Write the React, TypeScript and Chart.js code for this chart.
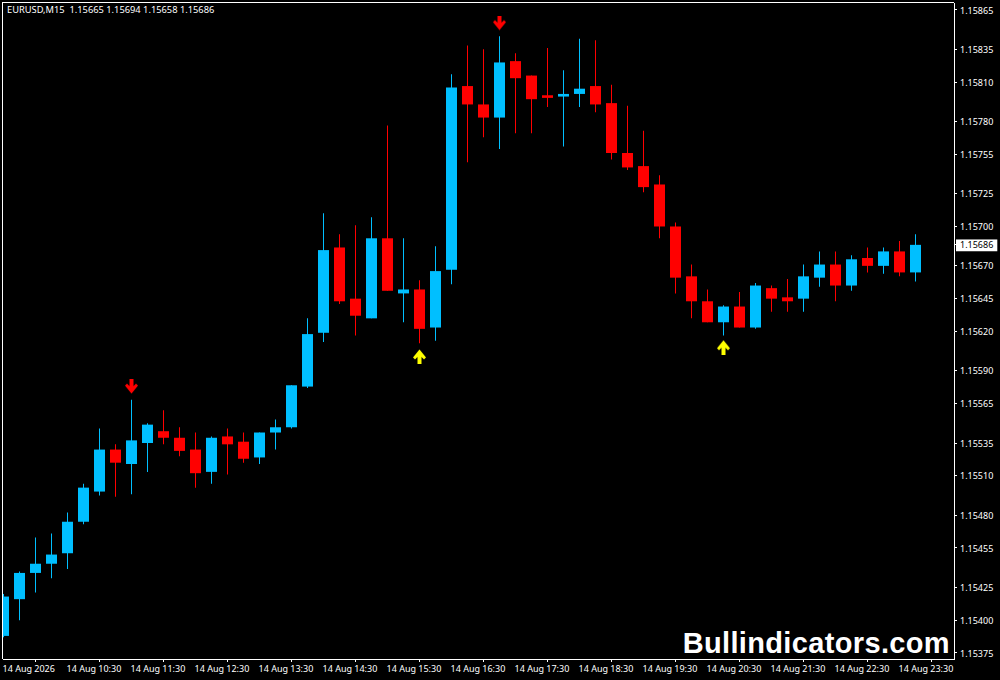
import React, { useEffect, useRef } from "react";
import { Chart, registerables } from "chart.js";

Chart.register(...registerables);

const opens = [1.15388,1.15416,1.15436,1.15443,1.15451,1.15475,1.15498,1.1553,1.15519,1.15535,1.15544,1.15539,1.1553,1.15513,1.1554,1.15536,1.15524,1.15543,1.15547,1.15578,1.15619,1.15684,1.15645,1.1563,1.15691,1.15649,1.15652,1.15623,1.15667,1.15807,1.15793,1.15783,1.15826,1.15815,1.158,1.15799,1.15801,1.15807,1.15794,1.15756,1.15746,1.15732,1.157,1.15662,1.15643,1.15627,1.15639,1.15623,1.15653,1.15646,1.15645,1.15661,1.15671,1.15655,1.15676,1.1567,1.15681,1.15665];
const closes = [1.15418,1.15436,1.15443,1.1545,1.15475,1.15501,1.1553,1.1552,1.15537,1.15549,1.15539,1.15529,1.15512,1.15539,1.15534,1.15523,1.15543,1.15547,1.15579,1.15618,1.15682,1.15643,1.15632,1.15691,1.15651,1.15652,1.15622,1.15666,1.15806,1.15793,1.15783,1.15825,1.15813,1.15797,1.15798,1.15801,1.15805,1.15793,1.15756,1.15745,1.1573,1.157,1.15661,1.15643,1.15627,1.15639,1.15623,1.15655,1.15645,1.15643,1.15662,1.15671,1.15655,1.15675,1.1567,1.15681,1.15665,1.15686];
const highs = [1.1542,1.15437,1.15463,1.15466,1.15482,1.15504,1.15546,1.15534,1.15568,1.1555,1.1556,1.15547,1.15543,1.1554,1.15546,1.15543,1.15543,1.15553,1.15579,1.1563,1.1571,1.15694,1.15701,1.15707,1.15777,1.15691,1.15659,1.15685,1.15816,1.15838,1.15835,1.15845,1.15832,1.15815,1.15836,1.15819,1.15843,1.15842,1.15808,1.15792,1.15773,1.15739,1.15703,1.15671,1.15652,1.1564,1.1565,1.15657,1.15655,1.1566,1.15671,1.15681,1.15681,1.15678,1.15684,1.15684,1.15689,1.15694];
const lows = [1.15387,1.154,1.15421,1.15432,1.15439,1.15473,1.15495,1.15494,1.15496,1.15513,1.15534,1.15525,1.15501,1.15504,1.15511,1.1552,1.15519,1.1553,1.15546,1.15577,1.15612,1.15641,1.15617,1.1563,1.15651,1.15627,1.15611,1.15613,1.15656,1.15749,1.15768,1.15759,1.15771,1.15771,1.15791,1.15761,1.15791,1.15787,1.15751,1.15743,1.15726,1.15691,1.15649,1.1563,1.15627,1.15617,1.15623,1.15622,1.15635,1.15635,1.15635,1.15654,1.15643,1.15651,1.15665,1.15664,1.15662,1.15658];

const downArrowIndex = [8, 31];
const downArrowPrice = [1.15578, 1.15855];
const upArrowIndex = [26, 45];
const upArrowPrice = [1.15601, 1.15608];

const priceTicks = [1.15865,1.15835,1.1581,1.1578,1.15755,1.15725,1.157,1.15686,1.1567,1.15645,1.1562,1.1559,1.15565,1.15535,1.1551,1.1548,1.15455,1.15425,1.154,1.15375];
const currentPrice = 1.15686;
const timeTickIndex = [0,4,8,12,16,20,24,28,32,36,40,44,48,52,56];
const timeLabels = ["14 Aug 2026","14 Aug 10:30","14 Aug 11:30","14 Aug 12:30","14 Aug 13:30","14 Aug 14:30","14 Aug 15:30","14 Aug 16:30","14 Aug 17:30","14 Aug 18:30","14 Aug 19:30","14 Aug 20:30","14 Aug 21:30","14 Aug 22:30","14 Aug 23:30"];
const headerText = "EURUSD,M15  1.15665 1.15694 1.15658 1.15686";
const watermarkText = "Bullindicators.com";

const UP = "#00bfff";
const DOWN = "#ff0000";
const AXIS_FONT = { family: "'Noto Sans'", size: 9 };

function arrowImage(color: string, up: boolean): HTMLCanvasElement {
  const c = document.createElement("canvas");
  c.width = 13;
  c.height = 15;
  const g = c.getContext("2d")!;
  const pts = [[4.5,0],[8.5,0],[8.5,7],[11,4.5],[13,6.5],[6.5,14.5],[0,6.5],[2,4.5],[4.5,7]];
  if (up) {
    g.translate(0, 15);
    g.scale(1, -1);
  }
  g.beginPath();
  pts.forEach(([x, y], i) => (i ? g.lineTo(x, y) : g.moveTo(x, y)));
  g.closePath();
  g.fillStyle = color;
  g.fill();
  return c;
}

function clearPadding(s: any) {
  s.paddingTop = 0;
  s.paddingBottom = 0;
  s.paddingLeft = 0;
  s.paddingRight = 0;
}

const framePlugin = {
  id: "frame",
  beforeDraw(chart: any) {
    const { ctx, width, height } = chart;
    ctx.save();
    ctx.fillStyle = "#000";
    ctx.fillRect(0, 0, width, height);
    ctx.restore();
  },
  afterDraw(chart: any) {
    const { ctx, chartArea } = chart;
    ctx.save();
    ctx.fillStyle = "#fff";
    ctx.fillRect(chartArea.left - 1, chartArea.top - 1, chartArea.right - chartArea.left + 1, 1);
    ctx.fillRect(chartArea.left - 1, chartArea.top - 1, 1, chartArea.bottom - chartArea.top + 1);
    ctx.textBaseline = "middle";
    ctx.textAlign = "left";
    ctx.font = "9.3px 'Noto Sans'";
    ctx.fillText(headerText, 7, 10);
    ctx.font = "bold 29px 'Liberation Sans'";
    ctx.letterSpacing = "0.35px";
    ctx.textAlign = "right";
    ctx.textBaseline = "alphabetic";
    ctx.fillText(watermarkText, 950, 653);
    ctx.restore();
  },
};

export default function App() {
  const ref = useRef<HTMLCanvasElement | null>(null);

  useEffect(() => {
    document.body.style.margin = "0";
    document.body.style.background = "#000";
    const canvas = ref.current!;
    canvas.getContext("2d", { alpha: false });
    const colors = closes.map((c, i) => (c >= opens[i] ? UP : DOWN));
    const chart = new Chart(canvas, {
      type: "bar",
      data: {
        datasets: [
          {
            type: "scatter",
            label: "Sell",
            data: downArrowIndex.map((x, i) => ({ x, y: downArrowPrice[i] })),
            pointStyle: arrowImage("#ff0000", false),
            order: 0,
          },
          {
            type: "scatter",
            label: "Buy",
            data: upArrowIndex.map((x, i) => ({ x, y: upArrowPrice[i] })),
            pointStyle: arrowImage("#ffff00", true),
            order: 0,
          },
          {
            label: "Body",
            data: opens.map((o, i) => ({ x: i, y: [o, closes[i]] })),
            backgroundColor: colors,
            borderWidth: 0,
            inflateAmount: 0,
            barThickness: 11,
            grouped: false,
            order: 1,
          },
          {
            label: "Wick",
            data: lows.map((l, i) => ({ x: i, y: [l, highs[i]] })),
            backgroundColor: colors,
            borderWidth: 0,
            inflateAmount: 0,
            barThickness: 1,
            grouped: false,
            order: 2,
          },
        ] as any,
      },
      options: {
        animation: false,
        responsive: false,
        devicePixelRatio: 1,
        layout: { autoPadding: false, padding: { top: 3, left: 3, right: 0, bottom: 0 } },
        plugins: { legend: { display: false }, title: { display: false }, tooltip: { enabled: false } },
        scales: {
          x: {
            type: "linear",
            min: -0.03125,
            max: 59.40625,
            offset: false,
            afterFit(s: any) { s.height = 21; clearPadding(s); },
            afterBuildTicks(s: any) { s.ticks = timeTickIndex.map((value) => ({ value })); },
            border: { color: "#fff", width: 1 },
            grid: { drawOnChartArea: false, drawTicks: true, tickLength: 3, color: "#fff" },
            ticks: {
              autoSkip: false,
              maxRotation: 0,
              minRotation: 0,
              align: "start",
              padding: 2,
              labelOffset: -1,
              color: "#fff",
              font: AXIS_FONT,
              callback: (v: any) => timeLabels[timeTickIndex.indexOf(Number(v))],
            },
          },
          y: {
            type: "linear",
            position: "right",
            min: 1.1537041,
            max: 1.158703,
            afterFit(s: any) { s.width = 46; clearPadding(s); },
            afterBuildTicks(s: any) { s.ticks = priceTicks.map((value) => ({ value })); },
            border: { color: "#fff", width: 1 },
            grid: { drawOnChartArea: false, drawTicks: true, tickLength: 3, color: "#fff" },
            ticks: {
              autoSkip: false,
              padding: 3,
              labelOffset: 1,
              font: AXIS_FONT,
              color: (c: any) => (c.tick && c.tick.value === currentPrice ? "#000" : "#fff"),
              showLabelBackdrop: (c: any) => !!c.tick && c.tick.value === currentPrice,
              backdropColor: "#fff",
              backdropPadding: { left: 4, right: 4, top: 1, bottom: 0 },
              callback: (v: any) => Number(v).toFixed(5),
            },
          },
        },
      } as any,
      plugins: [framePlugin],
    });
    return () => chart.destroy();
  }, []);

  return <canvas ref={ref} width={1000} height={680} style={{ display: "block", width: 1000, height: 680 }} />;
}
